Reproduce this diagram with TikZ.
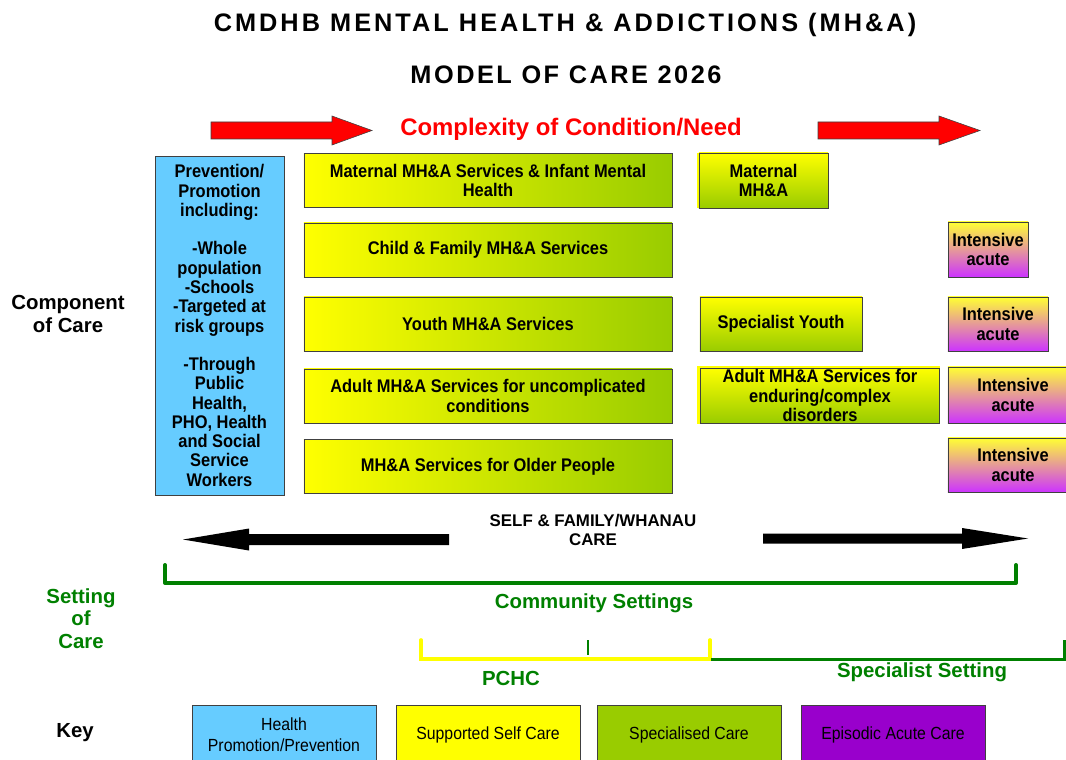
\documentclass[tikz,border=0pt]{standalone}
\usepackage{fontspec}
\setmainfont{Liberation Sans}
\newfontfamily\narrowfont{Liberation Sans}[FakeStretch=0.9]
\newfontfamily\titlefont{Liberation Sans}[LetterSpace=12]
\newfontfamily\subtitlefont{Liberation Sans}[LetterSpace=10]

\definecolor{mhyellow}{HTML}{FFFF00}
\definecolor{mhgreen}{HTML}{99CC00}
\definecolor{mhblue}{HTML}{66CCFF}
\definecolor{mhpurple}{HTML}{9900CC}
\definecolor{mhmagenta}{HTML}{CC33FF}
\definecolor{mhpale}{HTML}{FFFF33}
\definecolor{setgreen}{HTML}{008000}
\definecolor{edge}{HTML}{404040}

\tikzset{
	boxtext/.style={align=center, inner sep=1pt, font=\narrowfont\bfseries\fontsize{13}{13.7}\selectfont},
	svcbox/.style={boxtext, draw=edge, line width=0.6pt, left color=mhyellow, right color=mhgreen, minimum width=9.2cm, minimum height=1.35cm},
	specbox/.style={boxtext, draw=edge, line width=0.6pt, top color=mhyellow, bottom color=mhgreen, minimum height=1.375cm},
	acutebox/.style={boxtext, draw=edge, line width=0.6pt, top color=mhpale, bottom color=mhmagenta, minimum height=1.375cm},
	keybox/.style={draw=edge, line width=0.6pt, minimum width=4.6cm, minimum height=1.5cm, align=center, font=\narrowfont\fontsize{12.5}{15}\selectfont},
	sidelabel/.style={align=center, font=\bfseries\fontsize{14.5}{16}\selectfont},
	greenlabel/.style={sidelabel, text=setgreen},
}

\begin{document}
\begin{tikzpicture}[x=0.025cm, y=-0.025cm]
			%%%%% START %%%%%
			\useasboundingbox (0,0) rectangle (1066,760);
			\clip (0,0) rectangle (1066,760);
			
			\node[font=\titlefont\bfseries\fontsize{18}{20}\selectfont] (title) at (565,25) {CMDHB MENTAL HEALTH \& ADDICTIONS (MH\&A)};
			\node[font=\subtitlefont\bfseries\fontsize{18}{20}\selectfont] (subtitle) at (566,75) {MODEL OF CARE 2026};
			
			% complexity arrows
			\draw[fill=red, draw=edge, line width=0.4pt] (211,122) -- (332,122) -- (332,116) -- (372,130.5) -- (332,145) -- (332,139) -- (211,139) -- cycle;
			\draw[fill=red, draw=edge, line width=0.4pt] (818,122) -- (939,122) -- (939,116) -- (980,130.5) -- (939,145) -- (939,139) -- (818,139) -- cycle;
			\node[font=\bfseries\fontsize{17}{19}\selectfont, text=red] (complexity) at (571,129) {Complexity of Condition/Need};
			
			% prevention column
			\node[boxtext, draw=edge, line width=0.6pt, fill=mhblue, minimum width=3.225cm, minimum height=8.475cm] (prevention) at (219.5,325.5)
				{Prevention/\\Promotion\\including:\\[13.7pt]-Whole\\population\\-Schools\\-Targeted at\\risk groups\\[13.7pt]-Through\\Public\\Health,\\PHO, Health\\and Social\\Service\\Workers};
			
			\node[sidelabel] (component) at (68,314) {Component\\of Care};
			
			% services by age group
			\node[svcbox] (maternal) at (488,180.5) {Maternal MH\&A Services \& Infant Mental\\Health};
			\node[svcbox] (child) at (488,250) {Child \& Family MH\&A Services};
			\node[svcbox] (youth) at (488,324) {Youth MH\&A Services};
			\node[svcbox] (adult) at (488,396) {Adult MH\&A Services for uncomplicated\\conditions};
			\node[svcbox] (older) at (488,466.5) {MH\&A Services for Older People};
			
			% specialist services
			\fill[mhyellow] (697,153) rectangle (700,208);
			\fill[mhyellow] (697,366) rectangle (940,424);
			\node[specbox, minimum width=3.225cm] (spmaternal) at (763.5,180.5) {Maternal\\MH\&A};
			\node[specbox, minimum width=4.05cm, minimum height=1.35cm] (spyouth) at (781,324) {Specialist Youth};
			\node[specbox, minimum width=5.975cm, minimum height=1.375cm] (spadult) at (820,395.5) {Adult MH\&A Services for\\enduring/complex\\disorders};
			
			% acute services
			\node[acutebox, minimum width=2cm] (acutechild) at (988,249.5) {Intensive\\acute};
			\node[acutebox, minimum width=2.5cm, minimum height=1.35cm] (acuteyouth) at (998,324) {Intensive\\acute};
			\node[acutebox, minimum width=3.25cm, minimum height=1.4cm] (acuteadult) at (1013,395) {Intensive\\acute};
			\node[acutebox, minimum width=3.25cm, minimum height=1.35cm] (acuteolder) at (1013,465) {Intensive\\acute};
			
			% self care arrows
			\node[font=\bfseries\fontsize{12}{13.5}\selectfont, align=center] (selfcare) at (593,530) {SELF \& FAMILY/WHANAU\\CARE};
			\fill[black] (449,534) -- (249,534) -- (249,528.5) -- (183,539.5) -- (249,550.5) -- (249,545) -- (449,545) -- cycle;
			\fill[black] (763,533.5) -- (962,533.5) -- (962,528) -- (1028,538.5) -- (962,549) -- (962,543.5) -- (763,543.5) -- cycle;
			
			% settings
			\node[greenlabel] (setting) at (81,618.5) {Setting\\of\\Care};
			\draw[setgreen, line width=2.8pt, line cap=round, line join=round] (165,565) -- (165,583) -- (1016,583) -- (1016,565);
			\node[greenlabel] (community) at (594,603) {Community Settings};
			
			\draw[mhyellow, line width=2.6pt, line cap=round] (421,640) -- (421,659) -- (710,659) -- (710,640);
			\draw[setgreen, line width=1.4pt] (588,640) -- (588,655);
			\draw[setgreen, line width=2.6pt] (711,659.5) -- (1065,659.5) -- (1065,640);
			\node[greenlabel] (pchc) at (511,678) {PCHC};
			\node[greenlabel] (specialist) at (922,672) {Specialist Setting};
			
			% key
			\node[sidelabel] (key) at (75,733) {Key};
			\node[keybox, fill=mhblue] (keyhealth) at (284,735) {Health\\Promotion/Prevention};
			\node[keybox, fill=mhyellow] (keyself) at (488,735) {Supported Self Care};
			\node[keybox, fill=mhgreen] (keyspecial) at (689,735) {Specialised Care};
			\node[keybox, fill=mhpurple] (keyacute) at (893,735) {Episodic Acute Care};
			
			%%%%% END %%%%%
		\end{tikzpicture}
\end{document}
